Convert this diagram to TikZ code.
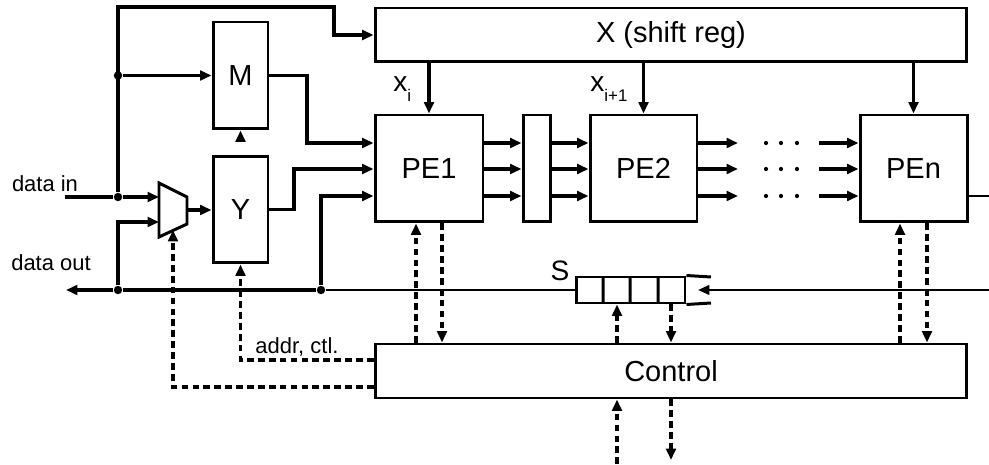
\documentclass[tikz,border=0pt]{standalone}
\usepackage{fontspec}
\setmainfont{Liberation Sans}
\usetikzlibrary{arrows.meta,calc}
\begin{document}
\begin{tikzpicture}[x=0.02cm,y=-0.02cm,
  box/.style={draw,line width=1.7pt,inner sep=0pt,font=\fontsize{16.5}{19}\selectfont},
  arr/.style={line width=1.9pt,-{Triangle[length=6.5pt,width=5.5pt]}},
  tarr/.style={line width=1.3pt,-{Triangle[length=6.5pt,width=5.5pt]}},
  ln/.style={line width=1.9pt},
  thinln/.style={line width=1.3pt},
  dsh/.style={line width=1.9pt,dash pattern=on 3.8pt off 2.4pt,-{Triangle[length=6.5pt,width=5.5pt]}},
  dot/.style={circle,fill,inner sep=0pt,minimum size=4.8pt},
  small/.style={font=\fontsize{12.5}{15}\selectfont,inner sep=0pt},
  lbl/.style={font=\fontsize{16}{19}\selectfont,inner sep=0pt},
]
\useasboundingbox (0,0) rectangle (989,465);

% boxes
\node[box,minimum width=11.84cm,minimum height=1.08cm] (X) at (671,35) {X (shift reg)};
\node[box,minimum width=2.16cm,minimum height=2.14cm] (PE1) at (429,168.5) {PE1};
\node[box,minimum width=0.54cm,minimum height=2.14cm] (L) at (536.5,168.5) {};
\node[box,minimum width=2.14cm,minimum height=2.14cm] (PE2) at (643.5,168.5) {PE2};
\node[box,minimum width=2.14cm,minimum height=2.14cm] (PEn) at (913.5,168.5) {PEn};
\node[box,minimum width=1.1cm,minimum height=2.14cm] (M) at (240.5,75.5) {M};
\node[box,minimum width=1.1cm,minimum height=2.14cm] (Y) at (240.5,209.5) {Y};
\node[box,minimum width=11.84cm,minimum height=1.08cm] (C) at (671,371) {Control};
\node[box,minimum width=2.18cm,minimum height=0.52cm] (S) at (630.5,290) {};
\draw[line width=1.7pt] (603,277) -- (603,303) (630,277) -- (630,303) (658,277) -- (658,303)
  (S.north east) -- (711,277) (S.south east) -- (711,303);
\node[lbl] (Slab) at (560,271) {S};

% mux
\draw[line width=1.7pt] (159,183) -- (187,197) -- (187,224) -- (159,237) -- cycle;
\coordinate (mux1) at (159,197);
\coordinate (mux2) at (159,222);
\coordinate (muxo) at (187,210);
\coordinate (muxs) at (173,230);

% junctions
\coordinate (din0) at (65,197);
\node[dot] (dA) at (118,197) {};
\node[dot] (dB) at (118,75.5) {};
\node[dot] (dC) at (118,290) {};
\node[dot] (dD) at (321,290) {};
\coordinate (dout) at (66,290);

% data in / feedback
\draw[ln] (din0) -- (dA);
\draw[arr] (dA) -- (mux1);
\draw[arr] (dA) -- (118,7) -- (334,7) |- (X.west);
\draw[arr] (dB) -- (M.west);
\draw[arr] (dC) |- (mux2);
\draw[arr] (muxo) -- (Y.west |- muxo);
\draw[arr] ($(Y.north)+(0,-13)$) -- (M.south);

% to PE1
\draw[arr] (M.east) -- (307,75.5) |- (PE1.west |- 0,143);
\draw[arr] (Y.east) -- (294,209.5) |- (PE1.west |- 0,169);
\draw[arr] (dD) |- (PE1.west |- 0,196);

% data out
\draw[arr] (dD) -- (dC) -- (dout);
\draw[thinln] (S.west) -- (dD);
\draw[tarr] (989,290) -- (698,290);

% x arrows
\draw[arr] (X.south -| PE1.north) -- (PE1.north);
\draw[arr] (X.south -| PE2.north) -- (PE2.north);
\draw[arr] (X.south -| PEn.north) -- (PEn.north);
\node[lbl,anchor=base west] (xi) at (393,92) {x\raisebox{-5.5pt}{\fontsize{9.6}{11}\selectfont i}};
\node[lbl,anchor=base west] (xi1) at (590,92) {x\raisebox{-5.5pt}{\fontsize{9.6}{11}\selectfont i+1}};

% PE chain
\foreach \yy in {143,169,196}{
  \draw[arr] (PE1.east |- 0,\yy) -- (L.west |- 0,\yy);
  \draw[arr] (L.east |- 0,\yy) -- (PE2.west |- 0,\yy);
  \draw[arr] (PE2.east |- 0,\yy) -- (738,\yy);
  \draw[arr] (819,\yy) -- (PEn.west |- 0,\yy);
  \foreach \xx in {766,781,797}{\fill (\xx,\yy) circle (1.2pt);}
}
\draw[thinln] (PEn.east |- 0,196) -- (989,196);

% control dashed
\draw[dsh] (C.north -| 416,0) -- (PE1.south -| 416,0);
\draw[dsh] (PE1.south -| 442,0) -- (C.north -| 442,0);
\draw[dsh] (C.north -| 900,0) -- (PEn.south -| 900,0);
\draw[dsh] (PEn.south -| 927,0) -- (C.north -| 927,0);
\draw[dsh] (C.north -| 617,0) -- (S.south -| 617,0);
\draw[dsh] (S.south -| 671,0) -- (C.north -| 671,0);
\draw[dsh] (617,464) -- (C.south -| 617,0);
\draw[dsh] (C.south -| 671,0) -- (671,460);
\draw[dsh] (C.west |- 0,360) -| (Y.south);
\draw[dsh] (C.west |- 0,387) -| (muxs);

% labels
\node[small] (lin) at (45,184) {data in};
\node[small] (lout) at (51,263) {data out};
\node[small] (lad) at (297,347) {addr, ctl.};
\end{tikzpicture}
\end{document}
